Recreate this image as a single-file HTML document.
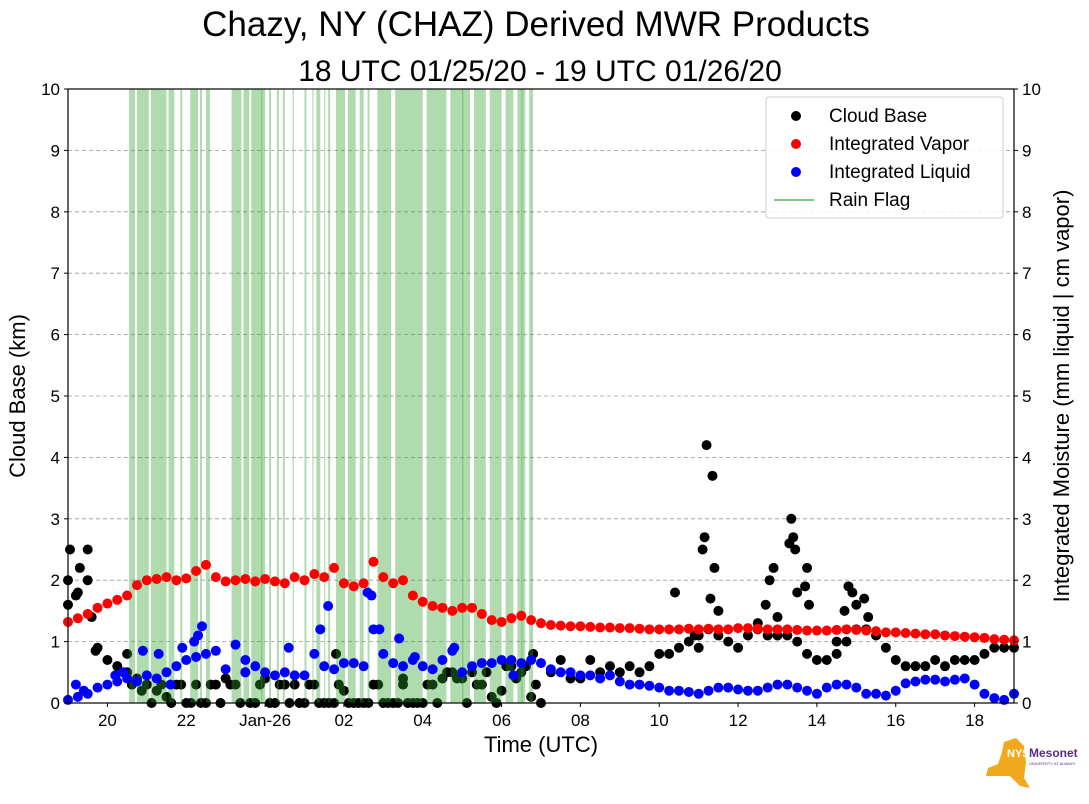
<!DOCTYPE html>
<html><head><meta charset="utf-8"><style>
body{margin:0;background:#fff;}
svg{display:block;font-family:"Liberation Sans","DejaVu Sans",sans-serif;}
</style></head><body>
<svg id="chart" width="1089" height="804" viewBox="0 0 1089 804" xmlns="http://www.w3.org/2000/svg">
<text x="536" y="36" font-size="35" text-anchor="middle">Chazy, NY (CHAZ) Derived MWR Products</text>
<text x="540" y="81" font-size="30" text-anchor="middle">18 UTC 01/25/20 - 19 UTC 01/26/20</text>
<g id="grid"></g>
<g id="cb"></g>
<g id="rain"></g>
<g id="vap"></g>
<g id="liq"></g>
<rect x="68" y="89" width="946" height="614" fill="none" stroke="#000" stroke-width="1.2"/>
<g id="axes"></g>
<text x="541" y="752" font-size="22" text-anchor="middle">Time (UTC)</text>
<text transform="translate(25,396) rotate(-90)" font-size="22" text-anchor="middle">Cloud Base (km)</text>
<text transform="translate(1069,396) rotate(-90)" font-size="22" text-anchor="middle">Integrated Moisture (mm liquid | cm vapor)</text>
<g>
<rect x="766" y="97" width="237" height="121" rx="3" fill="#fff" fill-opacity="0.85" stroke="#ccc"/>
<circle cx="796" cy="116" r="5" fill="#000"/><text x="829" y="122" font-size="19">Cloud Base</text>
<circle cx="796" cy="144" r="5" fill="red"/><text x="829" y="150" font-size="19">Integrated Vapor</text>
<circle cx="796" cy="172" r="5" fill="blue"/><text x="829" y="178" font-size="19">Integrated Liquid</text>
<line x1="774" y1="200" x2="814" y2="200" stroke="#2ca02c" stroke-opacity="0.6" stroke-width="2"/><text x="829" y="206" font-size="19">Rain Flag</text>
</g>
<g>
<polygon points="1004,742 1016,738 1024,746 1026,762 1024,778 1030,788 1020,786 1010,776 986,776 988,768 998,764 1002,752" fill="#f0a81c"/>
<text x="1007" y="757" font-size="11" font-weight="bold" fill="#fff">NYS</text>
<text x="1029" y="757" font-size="12" font-weight="bold" fill="#5b2a86">Mesonet</text>
<text x="1029" y="765" font-size="4" fill="#5b2a86">UNIVERSITY AT ALBANY</text>
</g>
</svg>
<script>
const xTickHours=[20,22,24,26,28,30,32,34,36,38,40,42];
const xTickLabels=["20","22","Jan-26","02","04","06","08","10","12","14","16","18"];
const yTicks=[0,1,2,3,4,5,6,7,8,9,10];
const seriesStart=19, seriesStep=0.25;
const vapor=[1.32,1.38,1.45,1.55,1.62,
1.68,1.75,1.92,2.0, 2.02,2.05,2.0,2.03, 2.15,2.25,2.05,1.98, 2.0,2.02,1.98,2.02,
1.98,1.95,2.05,2.0, 2.1,2.05,2.2,1.95, 1.9,1.95,2.3,2.05, 1.95,2.0,1.75,1.65,
1.58,1.55,1.5,1.55, 1.55,1.45,1.35,1.32, 1.38,1.42,1.35,1.3, 1.27,1.26,1.25,1.25,
1.24,1.23,1.23,1.22, 1.22,1.21,1.2,1.2, 1.2,1.2,1.21,1.2, 1.21,1.2,1.2,1.22,
1.22,1.21,1.2,1.2, 1.2,1.19,1.18,1.18, 1.18,1.19,1.2,1.19, 1.18,1.17,1.15,1.15,
1.14,1.13,1.12,1.12, 1.1,1.09,1.08,1.07, 1.06,1.04,1.03,1.02];
const liquid=[0.05,0.1,0.15,0.25,0.3,
0.35,0.4,0.35,0.45, 0.4,0.5,0.6,0.7, 0.75,0.8,0.85,0.55, 0.95,0.7,0.6,0.5,
0.45,0.5,0.45,0.45, 0.8,0.6,0.55,0.65, 0.65,0.6,1.2,0.8, 0.65,0.6,0.7,0.6,
0.55,0.7,0.85,0.5, 0.6,0.65,0.65,0.7, 0.7,0.65,0.7,0.65, 0.55,0.5,0.5,0.45,
0.45,0.4,0.45,0.35, 0.3,0.3,0.28,0.25, 0.2,0.2,0.18,0.15, 0.2,0.25,0.25,0.22,
0.2,0.2,0.25,0.3, 0.3,0.25,0.2,0.15, 0.25,0.3,0.3,0.25, 0.15,0.15,0.12,0.2,
0.32,0.35,0.38,0.38, 0.35,0.38,0.4,0.3, 0.15,0.08,0.05,0.15];
const liquidExtraHours=[22.3,22.4,20.9,21.3,21.9,22.2,25.6,25.4,26.6,26.7,27.4,26.9,19.2,19.4,20.2,20.4,21.6,23.5,24.6,27.8,28.8,30.3];
const liquidExtraValues=[1.1,1.25,0.85,0.8,0.9,1.0,1.58,1.2,1.8,1.75,1.05,1.2,0.3,0.2,0.45,0.5,0.3,0.5,0.9,0.75,0.9,0.45];
const cloudBase=[2.0,1.8,2.0,0.9,0.7,
0.6,0.5,0.4,0.3, 0.2,0.1,0.3,0.0, 0.3,0.0,0.3,0.4, 0.3,0.5,0.0,0.4,
0.0,0.3,0.3,0.0, 0.3,0.0,0.0,0.2, 0.0,0.0,0.3,0.0, 0.0,0.3,0.0,0.0,
0.3,0.4,0.5,0.4, 0.5,0.3,0.1,0.2, 0.6,0.5,0.1,0.0, 0.5,0.7,0.4,0.4,
0.7,0.5,0.6,0.5, 0.6,0.5,0.6,0.8, 0.8,0.9,1.0,1.1, 1.2,1.1,1.0,0.9,
1.1,1.2,1.1,1.1, 1.1,1.0,0.8,0.7, 0.7,0.8,1.0,1.2, 1.2,1.1,0.9,0.7,
0.6,0.6,0.6,0.7, 0.6,0.7,0.7,0.7, 0.8,0.9,0.9,0.9];
const cbBStart=20.62;
const cloudBaseB=[0.3,0.2,0.0,0.3,0.0,0.3,0.0,0.0,0.3,0.0,
0.3,0.0,0.0,0.3,0.0,0.3,0.0,0.0,0.3,0.0,
0.0,0.3,0.0,0.0,0.0,0.3,0.0,0.0,0.0,0.0,
0.3,0.0,0.5,0.4,0.0,0.3,0.5,0.0,0.6,0.4,0.6,0.3];
const cbExtraHours=[19.0,19.05,19.2,19.3,19.5,19.6,19.7,34.4,35.1,35.15,35.2,35.35,35.4,35.3,35.5,36.7,36.8,36.9,37.0,37.3,37.35,37.4,37.45,37.5,37.7,37.75,37.8,38.7,38.8,38.9,39.0,39.2,39.3,34.9,35.0,36.5,38.5,20.5,27.5,25.8,30.8];
const cbExtraValues=[1.6,2.5,1.75,2.2,2.5,1.4,0.85,1.8,2.5,2.7,4.2,3.7,2.2,1.7,1.5,1.6,2.0,2.2,1.4,2.6,3.0,2.7,2.5,1.8,1.9,2.2,1.6,1.5,1.9,1.8,1.6,1.7,1.4,1.1,0.9,1.3,1.0,0.8,0.4,0.8,0.8];
const rainStarts=[20.55,20.75,21.1,21.55,21.85,22.1,22.35,22.5,23.15,23.45,23.65,24.1,24.3,24.45,25.0,25.3,25.6,25.8,26.1,26.4,26.6,26.85,27.3,28.1,28.7,29.3,29.7,30.1,30.4,30.7,23.9,24.7,25.2,25.5,26.0,29.0,30.5];
const rainEnds=[20.7,21.05,21.5,21.7,21.9,22.3,22.4,22.6,23.4,23.6,24.0,24.15,24.35,24.5,25.05,25.4,25.65,26.0,26.3,26.5,26.65,27.2,28.0,28.6,29.2,29.6,30.0,30.3,30.6,30.8,23.92,24.72,25.22,25.52,26.02,29.02,30.52];

const X0=68,X1=1014,Y0=703,Y1=89,H0=19,H1=43;
const xs=h=>X0+(h-H0)/(H1-H0)*(X1-X0);
const ys=v=>Y0-v/10*(Y0-Y1);
const NS="http://www.w3.org/2000/svg";
function mk(tag,parent,attrs){const e=document.createElementNS(NS,tag);for(const k in attrs)e.setAttribute(k,attrs[k]);document.getElementById(parent).appendChild(e);return e;}
yTicks.forEach(v=>{
  if(v>0&&v<10){const g=mk('line','grid',{x1:X0,x2:X1,y1:ys(v),y2:ys(v),stroke:'#999','stroke-dasharray':'4,3','stroke-width':0.8});
  
  }
  const tl=mk('text','axes',{x:X0-8,y:ys(v)+6,'font-size':17,'text-anchor':'end'});tl.textContent=v;
  
  
  const tr=mk('text','axes',{x:X1+8,y:ys(v)+6,'font-size':17});tr.textContent=v;
  
  
  mk('line','axes',{x1:X0-4,x2:X0,y1:ys(v),y2:ys(v),stroke:'#000'});
  mk('line','axes',{x1:X1,x2:X1+4,y1:ys(v),y2:ys(v),stroke:'#000'});
});
xTickHours.forEach((h,i)=>{
  mk('line','axes',{x1:xs(h),x2:xs(h),y1:Y0,y2:Y0+4,stroke:'#000'});
  const t=mk('text','axes',{x:xs(h),y:Y0+23,'font-size':17,'text-anchor':'middle'});t.textContent=xTickLabels[i];
  
  
});
function dot(g,h,v,c){const d=mk('circle',g,{cx:xs(h),cy:ys(v),r:5,fill:c});
  
  }
cloudBase.forEach((v,i)=>dot('cb',seriesStart+i*seriesStep,v,'#000'));
cloudBaseB.forEach((v,i)=>dot('cb',cbBStart+i*seriesStep,v,'#000'));
cbExtraHours.forEach((h,i)=>dot('cb',h,cbExtraValues[i],'#000'));
rainStarts.forEach((s,i)=>{const r=mk('rect','rain',{x:xs(s),y:Y1,width:Math.max(1.2,xs(rainEnds[i])-xs(s)),height:Y0-Y1,fill:'#2ca02c','fill-opacity':0.38});
  
  });
vapor.forEach((v,i)=>dot('vap',seriesStart+i*seriesStep,v,'red'));
liquid.forEach((v,i)=>dot('liq',seriesStart+i*seriesStep,v,'blue'));
liquidExtraHours.forEach((h,i)=>dot('liq',h,liquidExtraValues[i],'blue'));
</script>
</body></html>
